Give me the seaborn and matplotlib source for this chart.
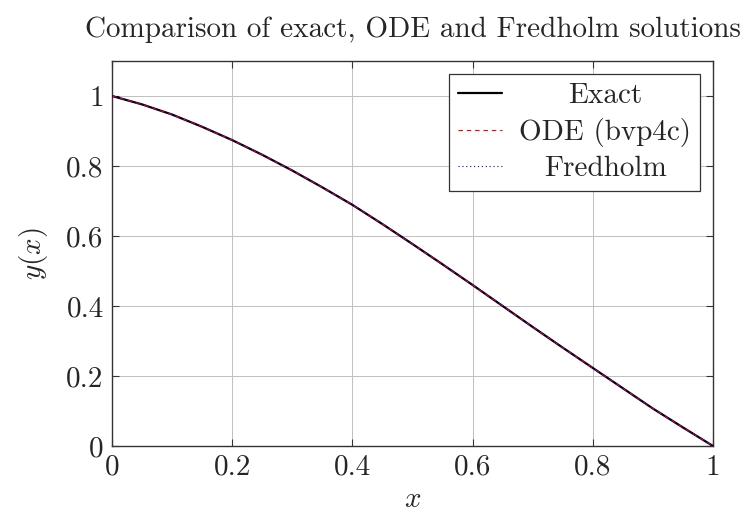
import matplotlib
matplotlib.use("Agg")
import matplotlib.pyplot as plt
from matplotlib.offsetbox import VPacker, DrawingArea
import seaborn as sns
import pandas as pd

# Values
x_vals = [0.00, 0.05, 0.10, 0.15, 0.20, 0.25, 0.30, 0.35, 0.40, 0.45, 0.50,
          0.55, 0.60, 0.65, 0.70, 0.75, 0.80, 0.85, 0.90, 0.95, 1.00]
y_exact = [1.000, 0.976, 0.947, 0.912, 0.874, 0.832, 0.787, 0.739, 0.689, 0.634, 0.577,
           0.519, 0.460, 0.400, 0.340, 0.281, 0.223, 0.165, 0.107, 0.053, 0.000]
y_ode = [1.000, 0.976, 0.947, 0.912, 0.874, 0.832, 0.787, 0.739, 0.689, 0.634, 0.577,
         0.519, 0.460, 0.400, 0.340, 0.281, 0.223, 0.165, 0.107, 0.053, 0.000]
y_fredholm = [1.000, 0.976, 0.947, 0.912, 0.874, 0.832, 0.787, 0.739, 0.689, 0.634, 0.577,
              0.519, 0.460, 0.400, 0.340, 0.281, 0.223, 0.165, 0.107, 0.053, 0.000]
series_labels = ["Exact", "ODE (bvp4c)", "Fredholm"]
x_ticks = [0, 0.2, 0.4, 0.6, 0.8, 1]
y_ticks = [0, 0.2, 0.4, 0.6, 0.8, 1]
x_tick_labels = ["0", "0.2", "0.4", "0.6", "0.8", "1"]
y_tick_labels = ["0", "0.2", "0.4", "0.6", "0.8", "1"]
title_text = "Comparison of exact, ODE and Fredholm solutions"

sns.set_style("ticks")
plt.rcParams["font.family"] = ["cmr10", "DejaVu Serif"]
plt.rcParams["mathtext.fontset"] = "cm"
plt.rcParams["axes.formatter.use_mathtext"] = True
plt.rcParams["axes.unicode_minus"] = False

FS = 21

fig = plt.figure(figsize=(7.44, 5.14), dpi=100)
ax = fig.add_axes([112 / 744, 1 - 446 / 514, (713 - 112) / 744, (446 - 61) / 514])

df_exact = pd.DataFrame({"x": x_vals, "y": y_exact})
df_ode = pd.DataFrame({"x": x_vals, "y": y_ode})
df_fred = pd.DataFrame({"x": x_vals, "y": y_fredholm})

sns.lineplot(data=df_exact, x="x", y="y", ax=ax, color="black", linewidth=1.6,
             label=series_labels[0], zorder=3)
sns.lineplot(data=df_ode, x="x", y="y", ax=ax, color="#ff0000", linewidth=0.8,
             linestyle=(0, (4.0, 3.5)), label=series_labels[1], zorder=4)
sns.lineplot(data=df_fred, x="x", y="y", ax=ax, color="#0000ff", linewidth=0.8,
             linestyle=(0, (1.0, 2.5)), label=series_labels[2], zorder=5)

ax.set_xlim(0, 1)
ax.set_ylim(0, 1.1)
ax.set_xticks(x_ticks)
ax.set_xticklabels(x_tick_labels)
ax.set_yticks(y_ticks)
ax.set_yticklabels(y_tick_labels)
ax.tick_params(axis="both", which="both", direction="in", length=5, width=0.8,
               labelsize=FS, top=True, right=True, color="#333333", pad=6)
ax.grid(True, color="#c0c0c0", linewidth=0.7)
ax.set_axisbelow(True)
for s in ax.spines.values():
    s.set_color("#333333")
    s.set_linewidth(1.0)
    s.set_visible(True)

ax.set_xlabel("$x$", fontsize=FS, labelpad=4)
ax.set_ylabel("$y(x)$", fontsize=FS, labelpad=11.5)
ax.set_title(title_text, fontsize=FS, pad=17)

leg = ax.legend(loc="upper right", fontsize=FS, frameon=True, fancybox=False,
                edgecolor="#333333", framealpha=1, borderpad=0.3,
                labelspacing=0.3, handlelength=1.5, handletextpad=0.6,
                borderaxespad=0.45)
leg.get_frame().set_linewidth(0.9)

# Centre legend texts within their column (as in the reference)
renderer = fig.canvas.get_renderer()
widths = [t.get_window_extent(renderer).width for t in leg.get_texts()]
wmax_pt = max(widths) * 72.0 / fig.dpi
column = leg._legend_handle_box.get_children()[0]
for itembox in column.get_children():
    handlebox, textbox = itembox.get_children()
    spacer = DrawingArea(wmax_pt, 0)
    centred = VPacker(pad=0, sep=0, align="center", children=[textbox, spacer])
    centred.set_figure(fig)
    itembox._children = [handlebox, centred]

fig.savefig("out.png", dpi=100)
